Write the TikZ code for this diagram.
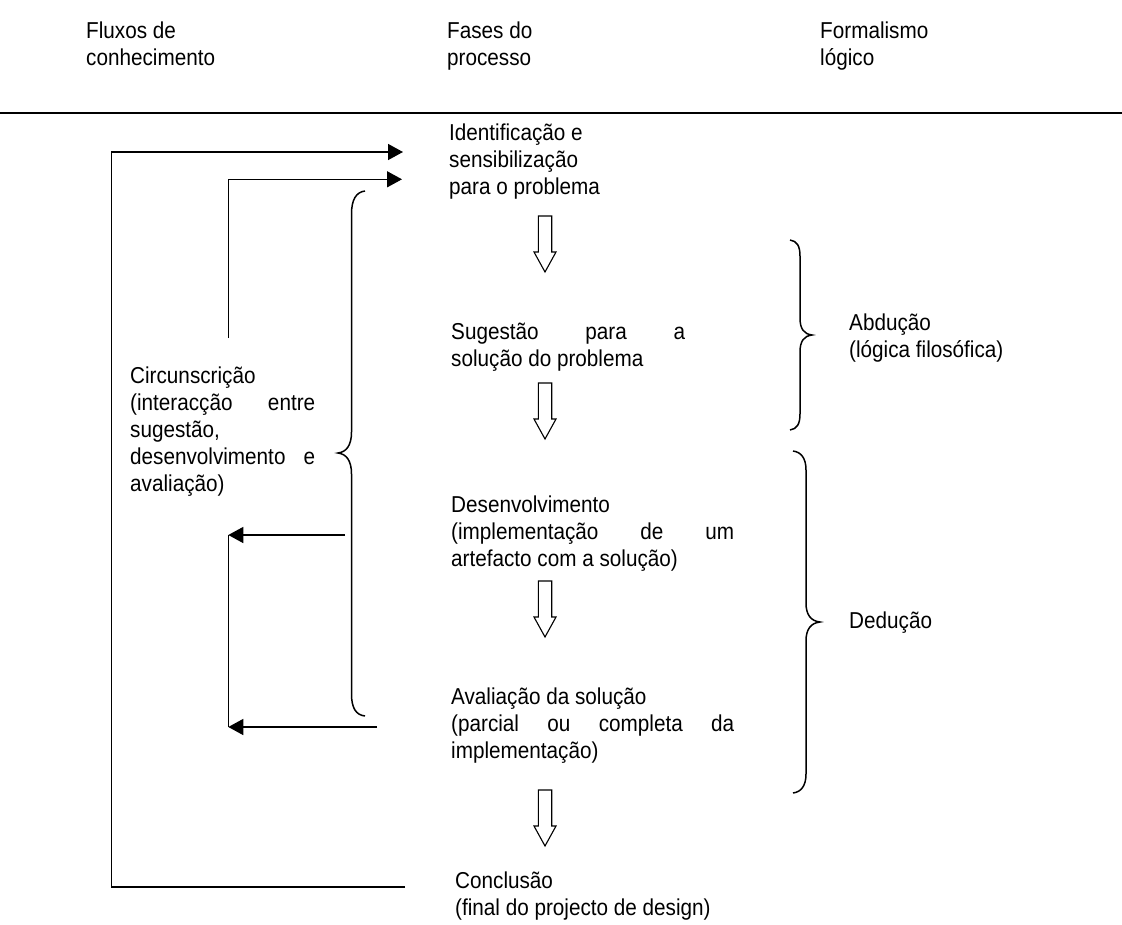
\documentclass[tikz,border=0pt]{standalone}
\usepackage{fontspec}
\setmainfont{Liberation Sans}[FakeStretch=0.9]
\usetikzlibrary{arrows.meta}
% multi-line text block whose reference point is the first baseline
\newcommand\textlines[1]{\begin{tabular}[t]{@{}l@{}}#1\end{tabular}}
\begin{document}
\begin{tikzpicture}[x=1pt,y=-1pt,
  txt/.style={anchor=base west,inner sep=0pt,font=\fontsize{23}{27}\selectfont},
  flow/.style={line width=1.5pt},
  tipped/.style={-{Triangle[length=15pt,width=16pt]}},
  bracepath/.style={line width=1.5pt},
  downarrow/.pic={\draw[line width=1.1pt,fill=white]
     (-6.7,0) -- (6.7,0) -- (6.7,36) -- (11,36) -- (0,56) -- (-11,36) -- (-6.7,36) -- cycle;}]
\useasboundingbox (0,0) rectangle (1122,924);

% column headings
\node[txt] (hflux) at (86,38) {\textlines{Fluxos de\\conhecimento}};
\node[txt] (hfases) at (447,38) {\textlines{Fases do\\processo}};
\node[txt] (hform) at (820,38) {\textlines{Formalismo\\lógico}};
\draw[line width=1.5pt] (0,113) -- (1122,113);

% process phases
\node[txt] (ident) at (449,140) {\textlines{Identificação e\\sensibilização\\para o problema}};
\node[txt] (sug) at (451,339) {\textlines{\makebox[234pt][s]{Sugestão para a}\\solução do problema}};
\node[txt] (desen) at (451,512) {\textlines{Desenvolvimento\\\makebox[283pt][s]{(implementação de um}\\artefacto com a solução)}};
\node[txt] (aval) at (451,704) {\textlines{Avaliação da solução\\\makebox[283pt][s]{(parcial ou completa da}\\implementação)}};
\node[txt] (concl) at (455,888) {\textlines{Conclusão\\(final do projecto de design)}};

% arrows between phases
\pic at (545,216) {downarrow};
\pic at (545,383) {downarrow};
\pic at (545,581) {downarrow};
\pic at (545,790) {downarrow};

% knowledge flows
\node[txt] (circ) at (130,383) {\textlines{Circunscrição\\\makebox[185pt][s]{(interacção entre}\\sugestão,\\\makebox[185pt][s]{desenvolvimento e}\\avaliação)}};

\coordinate (outerFrom) at (405,887);
\coordinate (outerTo) at (403,152);
\coordinate (innerFrom) at (228.3,338);
\coordinate (innerTo) at (402,179.3);
\coordinate (devFrom) at (345,535);
\coordinate (devTo) at (228.3,535);
\coordinate (evalFrom) at (377,727);
\coordinate (evalTo) at (228.3,727);

\draw[flow,tipped] (outerFrom) -- (111.7,887) -- (111.7,152) -- (outerTo);
\draw[flow,tipped] (innerFrom) |- (innerTo);
\draw[flow] (devTo) -- (evalTo);
\draw[flow,tipped] (devFrom) -- (devTo);
\draw[flow,tipped] (evalFrom) -- (evalTo);

% brace grouping the circumscription phases
\draw[bracepath] (365,191) .. controls (356,192) and (351.5,200) .. (351.5,214)
  -- (351.5,432) .. controls (351.5,446) and (346,452) .. (338,453)
  .. controls (346,454) and (351.5,460) .. (351.5,474)
  -- (351.5,694) .. controls (351.5,708) and (356,715) .. (365,716);

% logical formalism
\draw[bracepath] (790,240) .. controls (797,241) and (800,246) .. (800,256)
  -- (800,318) .. controls (800,329) and (804,334) .. (812,335)
  .. controls (804,336) and (800,341) .. (800,352)
  -- (800,414) .. controls (800,424) and (797,429) .. (790,430);
\draw[bracepath] (793,451) .. controls (801,452) and (806,458) .. (806,470)
  -- (806,603) .. controls (806,615) and (811,621) .. (820,622)
  .. controls (811,623) and (806,629) .. (806,641)
  -- (806,774) .. controls (806,786) and (801,792) .. (793,793);

\node[txt] (abd) at (849,330) {\textlines{Abdução\\(lógica filosófica)}};
\node[txt] (ded) at (849,628) {Dedução};
\end{tikzpicture}
\end{document}
